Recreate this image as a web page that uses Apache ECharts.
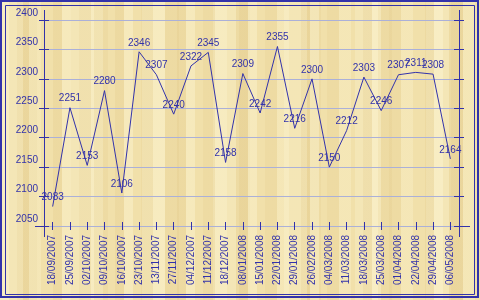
<!DOCTYPE html>
<html><head><meta charset="utf-8">
<script src="https://cdn.jsdelivr.net/npm/echarts@6/dist/echarts.min.js"></script>
<style>
html,body{margin:0;padding:0;}
#c{width:480px;height:300px;background-color:#F1E0AA;
background-image:
 repeating-linear-gradient(90deg, rgba(255,250,220,0.35) 0 9px, rgba(0,0,0,0) 9px 17px, rgba(200,160,80,0.08) 17px 29px, rgba(255,250,220,0.25) 29px 41px, rgba(0,0,0,0) 41px 53px, rgba(200,160,80,0.1) 53px 62px),
 repeating-linear-gradient(90deg, rgba(255,255,230,0.2) 0 23px, rgba(190,150,70,0.07) 23px 37px, rgba(0,0,0,0) 37px 71px);}
</style></head><body><div id="c"></div>
<script>
const categories = ['18/09/2007','25/09/2007','02/10/2007','09/10/2007','16/10/2007','23/10/2007','13/11/2007','27/11/2007','04/12/2007','11/12/2007','18/12/2007','08/01/2008','15/01/2008','22/01/2008','29/01/2008','26/02/2008','04/03/2008','11/03/2008','18/03/2008','25/03/2008','01/04/2008','22/04/2008','29/04/2008','06/05/2008'];
const values = [2083,2251,2153,2280,2106,2346,2307,2240,2322,2345,2158,2309,2242,2355,2216,2300,2150,2212,2303,2246,2307,2311,2308,2164];
const yMin = 2050, yMax = 2400, yStep = 50;

const BLUE = '#3232AA';
const GRID = '#ABB0D8';
const G = {left:44, right:21, top:20, bottom:74};
const W = 480, H = 300;
const xL = G.left, xR = W - G.right, yT = G.top, yB = H - G.bottom;

const chart = echarts.init(document.getElementById('c'), null, {renderer:'canvas'});
function yAx(pos, inside, labels, grid){
  return {type:'value', min:yMin, max:yMax, interval:yStep, position:pos,
    axisLine:{show:false},
    axisTick:{show:true, inside:inside, length:5, lineStyle:{color:BLUE,width:1}},
    axisLabel:{show:labels, color:BLUE, fontFamily:'Liberation Sans, Arial', fontSize:10, margin:6, verticalAlign:'bottom', padding:[0,0,2,0], formatter:function(v){return String(v);}},
    splitLine:{show:grid, lineStyle:{color:GRID,width:1}}};
}
function xAx(inside){
  return {type:'category', data:categories, boundaryGap:true, position:'bottom',
    axisLine:{show:false},
    axisTick:{show:true, inside:inside, length:4, alignWithLabel:true, interval:0, lineStyle:{color:BLUE}},
    axisLabel:{show:!inside, rotate:90, interval:0, color:BLUE, fontFamily:'Liberation Sans, Arial', fontSize:10, margin:9}};
}
chart.setOption({
  animation:false,
  backgroundColor:'transparent',
  grid:{left:G.left, right:G.right, top:G.top, bottom:G.bottom, containLabel:false},
  xAxis:[xAx(false), xAx(true)],
  yAxis:[yAx('left',false,true,true), yAx('left',true,false,false), yAx('right',false,false,false), yAx('right',true,false,false)],
  series:[{type:'line', data:values, xAxisIndex:0, yAxisIndex:0, symbol:'circle', symbolSize:2, showSymbol:true, showAllSymbol:true,
    itemStyle:{color:'rgba(0,0,0,0)', borderWidth:0},
    lineStyle:{color:BLUE,width:1},
    label:{show:true, position:'top', distance:3, color:BLUE, fontFamily:'Liberation Sans, Arial', fontSize:10},
    labelLayout:{hideOverlap:false}}],
  graphic:[
    {type:'rect', shape:{x:1,y:1,width:477,height:296}, style:{fill:'none',stroke:BLUE,lineWidth:2}},
    {type:'rect', shape:{x:5.5,y:5.5,width:469,height:289}, style:{fill:'none',stroke:BLUE,lineWidth:1}},
    {type:'line', shape:{x1:xL+0.5,y1:yT-10,x2:xL+0.5,y2:yB+11}, style:{stroke:BLUE,lineWidth:1}},
    {type:'line', shape:{x1:xR+0.5,y1:yT-10,x2:xR+0.5,y2:yB+11}, style:{stroke:BLUE,lineWidth:1}},
    {type:'line', shape:{x1:xL-9,y1:yB+0.5,x2:xR+11,y2:yB+0.5}, style:{stroke:BLUE,lineWidth:1}}
  ]
});
</script></body></html>
